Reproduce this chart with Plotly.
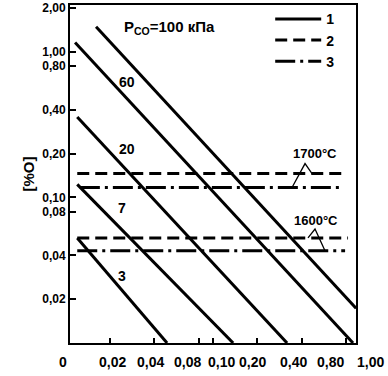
import math
import plotly.graph_objects as go

# ---- data ----
p_co_kpa = ["100", "60", "20", "7", "3"]          # P_CO of each solid line
c_start = [0.0161, 0.0116, 0.0120, 0.0120, 0.0120]  # [%C] at line start
o_start = [1.49, 1.16, 0.357, 0.123, 0.0527]        # [%O] at line start
c_end = [0.934, 0.891, 0.318, 0.137, 0.0488]        # [%C] at line end
o_end = [0.0173, 0.0100, 0.0100, 0.0100, 0.0100]    # [%O] at line end

temps = ["1700°C", "1600°C"]
o_dashed = [0.146, 0.0527]          # curve 2
c_dashed_start = [0.0120, 0.0120]
c_dashed_end = [0.811, 0.824]
o_dashdot = [0.117, 0.0430]         # curve 3
c_dashdot_start = [0.0125, 0.0120]
c_dashdot_end = [0.728, 0.787]

# callout brackets (leg end, apex, leg end) for the temperature labels
callout_c = [[0.3436, 0.421, 0.4696], [0.441, 0.492, 0.575]]
callout_o = [[0.117, 0.1708, 0.146], [0.0527, 0.0607, 0.0430]]
temp_label_c = [0.492, 0.500]
temp_label_o = [0.200, 0.0698]

# line label anchor points
label_c = [0.0261, 0.0261, 0.0242, 0.0242]
label_o = [0.618, 0.216, 0.0844, 0.0290]

y_ticks = [2.0, 1.0, 0.8, 0.4, 0.2, 0.1, 0.08, 0.04, 0.02]
y_ticktext = ["2,00", "1,00", "0,80", "0,40", "0,20", "0,10", "0,08", "0,04", "0,02"]
x_ticks = [0.02, 0.04, 0.08, 0.1, 0.2, 0.4, 0.8]
x_label_text = ["0", "0,02", "0,04", "0,08", "0,10", "0,20", "0,40", "0,80", "1,00"]

legend_names = ["1", "2", "3"]

# ---- layout constants ----
W, H = 388, 376
ML, MR, MT, MB = 70, 32, 5, 33
PW, PH = W - ML - MR, H - MT - MB
x_label_px = [63, 112, 150, 187, 221, 252, 293, 330, 370]
FONT = "Liberation Sans, Arial, sans-serif"

fig = go.Figure()

for i in range(len(p_co_kpa)):
    fig.add_trace(go.Scatter(
        x=[c_start[i], c_end[i]], y=[o_start[i], o_end[i]], mode="lines",
        line=dict(color="black", width=3), name=legend_names[0],
        legendgroup="1", showlegend=(i == 0), hoverinfo="skip"))

for i in range(len(temps)):
    fig.add_trace(go.Scatter(
        x=[c_dashed_start[i], c_dashed_end[i]], y=[o_dashed[i], o_dashed[i]],
        mode="lines", line=dict(color="black", width=3, dash="12px,6px"),
        name=legend_names[1], legendgroup="2", showlegend=(i == 0), hoverinfo="skip"))

for i in range(len(temps)):
    fig.add_trace(go.Scatter(
        x=[c_dashdot_start[i], c_dashdot_end[i]], y=[o_dashdot[i], o_dashdot[i]],
        mode="lines", line=dict(color="black", width=3, dash="20px,5px,3px,5px"),
        name=legend_names[2], legendgroup="3", showlegend=(i == 0), hoverinfo="skip"))

for i in range(len(temps)):
    fig.add_trace(go.Scatter(
        x=callout_c[i], y=callout_o[i], mode="lines",
        line=dict(color="black", width=1.3), showlegend=False, hoverinfo="skip"))

annotations = []
for i, t in enumerate(temps):
    annotations.append(dict(x=math.log10(temp_label_c[i]), y=math.log10(temp_label_o[i]),
                            xref="x", yref="y", text=t, showarrow=False,
                            font=dict(family=FONT, size=13, color="black", weight="bold")))

for i, lab in enumerate(p_co_kpa[1:]):
    annotations.append(dict(x=math.log10(label_c[i]), y=math.log10(label_o[i]),
                            xref="x", yref="y", text=lab, showarrow=False,
                            font=dict(family=FONT, size=14, color="black", weight="bold")))

annotations.append(dict(x=(169 - ML) / PW, y=(H - MB - 16) / PH, xref="paper", yref="paper",
                        text="P<sub>CO</sub>=" + p_co_kpa[0] + " кПа", showarrow=False,
                        font=dict(family=FONT, size=15, color="black", weight="bold")))

for txt, px in zip(x_label_text, x_label_px):
    annotations.append(dict(x=(px - ML) / PW, y=-19 / PH, xref="paper", yref="paper",
                            text=txt, showarrow=False, xanchor="center", yanchor="middle",
                            font=dict(family=FONT, size=14, color="black", weight="bold")))

fig.update_layout(
    width=W, height=H,
    margin=dict(l=ML, r=MR, t=MT, b=MB, autoexpand=False),
    paper_bgcolor="white", plot_bgcolor="white",
    showlegend=True,
    legend=dict(x=0.70, y=1.005, xanchor="left", yanchor="top",
                bgcolor="rgba(0,0,0,0)", itemwidth=46,
                font=dict(family=FONT, size=14, color="black", weight="bold"),
                tracegroupgap=0),
    annotations=annotations,
    xaxis=dict(type="log", range=[-1.97, -0.03], showline=True, linewidth=2,
               linecolor="black", mirror=True, ticks="inside", ticklen=5,
               tickwidth=1.5, tickcolor="black", tickvals=x_ticks, automargin=False,
               showticklabels=False, showgrid=False, zeroline=False),
    yaxis=dict(type="log", range=[-2.0, 0.322], showline=True, linewidth=2,
               linecolor="black", mirror=True, ticks="inside", ticklen=6,
               tickwidth=1.5, tickcolor="black", tickvals=y_ticks, ticktext=y_ticktext,
               ticklabeloverflow="allow",
               tickfont=dict(family=FONT, size=12, color="black", weight="bold"),
               showgrid=False, zeroline=False, automargin=False,
               title=dict(text="[%O]", standoff=4,
                          font=dict(family=FONT, size=15, color="black", weight="bold"))),
)

fig.write_html("out.html", config={"displayModeBar": False},
               post_script="document.body.style.margin='0';document.body.style.overflow='hidden';")
